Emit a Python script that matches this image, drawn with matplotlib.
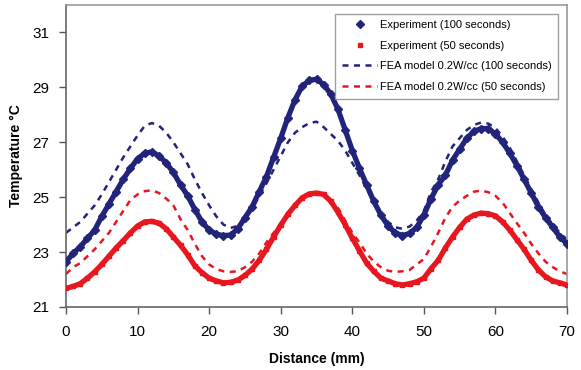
import matplotlib.pyplot as plt
import numpy as np

plt.rcParams['font.family'] = ['Liberation Sans', 'DejaVu Sans']

distance = np.arange(0, 71)

exp_100 = [22.65, 22.95, 23.2, 23.5, 23.8, 24.3, 24.75, 25.2, 25.65, 26.05,
           26.4, 26.6, 26.65, 26.5, 26.25, 25.9, 25.45, 25.05, 24.55, 24.1,
           23.8, 23.65, 23.6, 23.62, 23.85, 24.25, 24.65, 25.2, 25.75, 26.45,
           27.15, 27.9, 28.55, 29.05, 29.25, 29.3, 29.1, 28.75, 28.2, 27.45,
           26.7, 26.05, 25.45, 24.85, 24.35, 23.95, 23.7, 23.6, 23.68, 23.9,
           24.35, 24.95, 25.45, 25.8, 26.35, 26.75, 27.15, 27.4, 27.5, 27.5,
           27.3, 27.0, 26.6, 26.15, 25.65, 25.15, 24.65, 24.25, 23.9, 23.55,
           23.3]

exp_50 = [21.68, 21.75, 21.85, 22.05, 22.28, 22.55, 22.85, 23.15, 23.42, 23.7,
          23.95, 24.1, 24.12, 24.05, 23.85, 23.55, 23.25, 22.9, 22.5, 22.25,
          22.05, 21.95, 21.88, 21.9, 21.98, 22.15, 22.38, 22.7, 23.1, 23.55,
          23.98, 24.38, 24.7, 24.98, 25.12, 25.15, 25.1, 24.85, 24.45, 24.0,
          23.5, 23.05, 22.6, 22.3, 22.05, 21.95, 21.85, 21.8, 21.85, 21.92,
          22.05, 22.4, 22.7, 23.15, 23.55, 23.9, 24.2, 24.35, 24.42, 24.4,
          24.32, 24.1, 23.8, 23.45, 23.1, 22.7, 22.35, 22.1, 21.95, 21.88,
          21.8]

fea_100 = [23.7, 23.9, 24.1, 24.4, 24.7, 25.1, 25.55, 26.0, 26.45, 26.85,
           27.25, 27.6, 27.7, 27.6, 27.35, 27.0, 26.6, 26.2, 25.65, 25.15,
           24.7, 24.3, 24.0, 23.88, 23.95, 24.2, 24.55, 25.05, 25.5, 26.0,
           26.5, 27.0, 27.35, 27.55, 27.7, 27.75, 27.55, 27.3, 27.05, 26.7,
           26.25, 25.8, 25.3, 24.8, 24.4, 24.1, 23.9, 23.85, 23.93, 24.15,
           24.5, 25.2, 25.65, 26.3, 26.85, 27.15, 27.45, 27.63, 27.72, 27.68,
           27.52, 27.2, 26.8, 26.3, 25.8, 25.3, 24.8, 24.35, 24.0, 23.7,
           23.45]

fea_50 = [22.2, 22.45, 22.6, 22.85, 23.1, 23.4, 23.7, 24.1, 24.5, 24.9,
          25.1, 25.22, 25.25, 25.15, 24.95, 24.7, 24.2, 23.8, 23.3, 22.85,
          22.55, 22.38, 22.3, 22.28, 22.3, 22.45, 22.65, 22.95, 23.35, 23.7,
          24.05, 24.4, 24.75, 25.0, 25.15, 25.2, 25.1, 24.9, 24.6, 24.15,
          23.7, 23.35, 22.95, 22.65, 22.45, 22.32, 22.28, 22.3, 22.35, 22.55,
          22.75, 23.2, 23.7, 24.25, 24.65, 24.88, 25.05, 25.2, 25.24, 25.18,
          25.05, 24.8, 24.42, 24.05, 23.7, 23.3, 22.95, 22.65, 22.45, 22.3,
          22.2]

navy = '#22237a'
red = '#e8161e'

fig = plt.figure(figsize=(5.81, 3.70), dpi=100)
ax = fig.add_axes([0.1136, 0.1703, 0.8624, 0.8162])

# dense experimental bands
ax.plot(distance, exp_100, '-', color=navy, lw=3.8, zorder=3)
ax.plot(distance, exp_100, 'D', color=navy, ms=3.8, zorder=3,
        label='Experiment (100 seconds)')
ax.plot(distance, exp_50, '-', color=red, lw=3.8, zorder=3)
ax.plot(distance, exp_50, 's', color=red, ms=3.2, zorder=3,
        label='Experiment (50 seconds)')

ax.plot(distance, fea_100, color=navy, lw=1.8, dashes=(2.4, 2.2), zorder=2,
        label='FEA model 0.2W/cc (100 seconds)')
ax.plot(distance, fea_50, color=red, lw=1.8, dashes=(2.4, 2.2), zorder=2,
        label='FEA model 0.2W/cc (50 seconds)')

ax.set_xlim(0, 70)
ax.set_ylim(21, 32)
ax.set_xticks(range(0, 71, 10))
ax.set_yticks([21, 23, 25, 27, 29, 31])
ax.tick_params(axis='both', direction='out', length=5, width=1,
               color='#555555', labelsize=11)
ax.tick_params(axis='y', pad=7)
ax.tick_params(axis='x', pad=8)

for side in ['left', 'bottom']:
    ax.spines[side].set_color('#666666')
for side in ['top', 'right']:
    ax.spines[side].set_color('#999999')
for s in ax.spines.values():
    s.set_linewidth(1.2)

ax.set_xlabel('Distance (mm)', fontsize=10, fontweight='bold', labelpad=9)
ax.set_ylabel('Temperature °C', fontsize=10, fontweight='bold', labelpad=7)

leg = ax.legend(loc='upper right', fontsize=8, frameon=True, fancybox=False,
                edgecolor='#888888', borderpad=0.6, labelspacing=0.95,
                handlelength=3.2, handletextpad=0.2,
                bbox_to_anchor=(0.993, 0.99))
leg.get_frame().set_linewidth(1.0)

fig.savefig('out.png', dpi=100)
